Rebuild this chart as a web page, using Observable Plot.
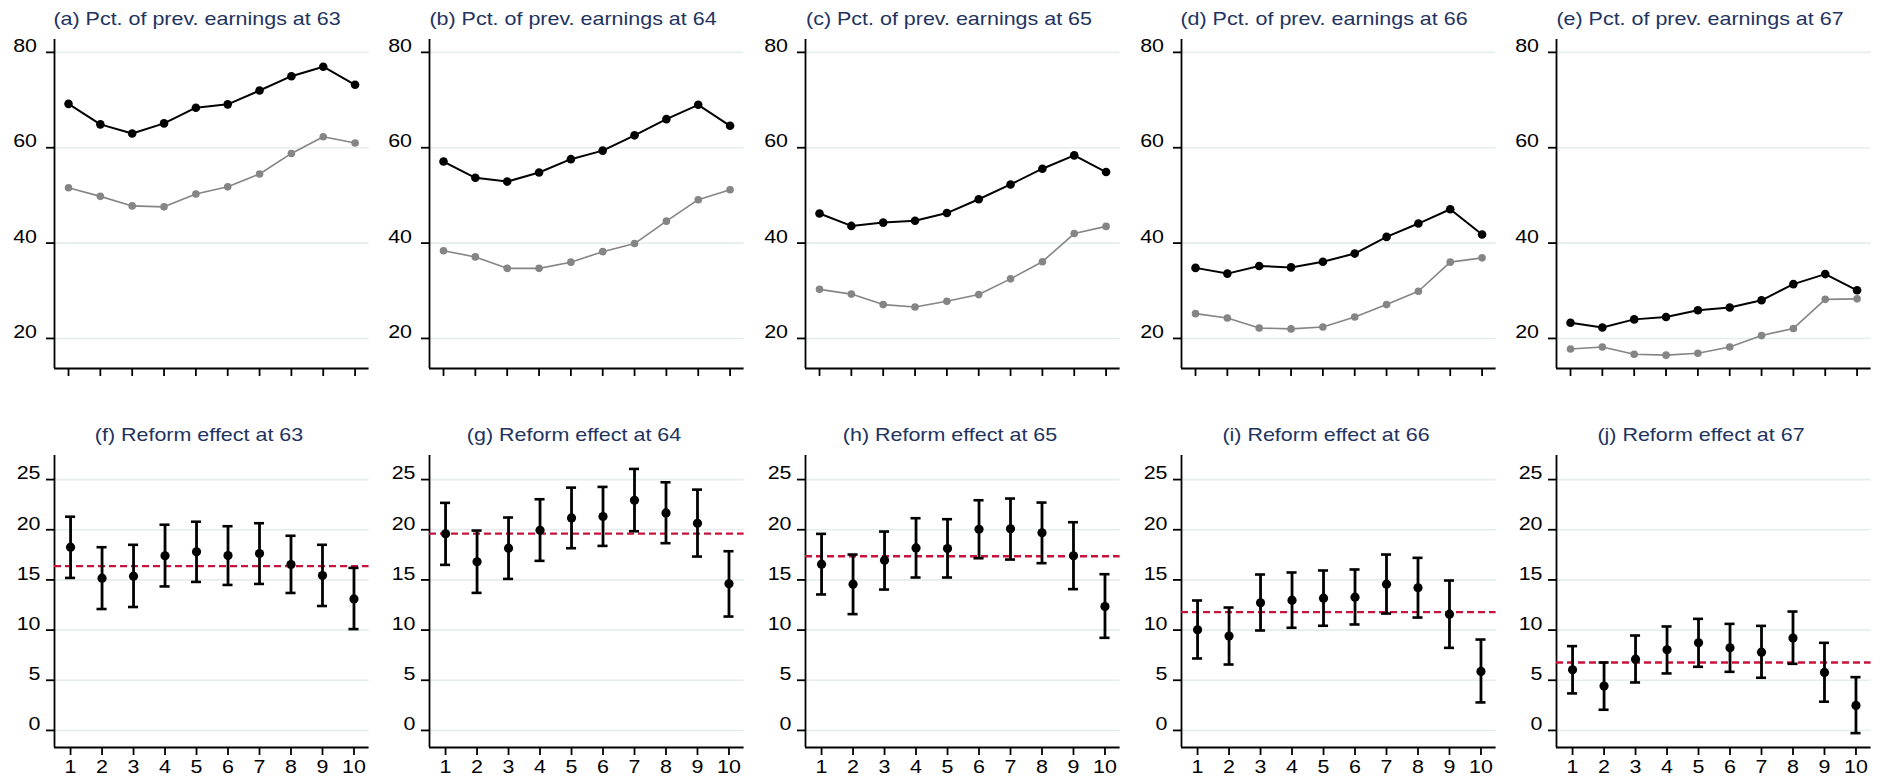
<!DOCTYPE html>
<html><head><meta charset="utf-8">
<script src="https://cdn.jsdelivr.net/npm/d3@7"></script>
<script src="https://cdn.jsdelivr.net/npm/@observablehq/plot@0.6"></script>
<style>
body{margin:0;background:#fff;}
#root{position:relative;width:1883px;height:781px;font-family:"Liberation Sans",Arial,sans-serif;overflow:hidden;}
.title{position:absolute;color:#22335f;font-size:19px;line-height:19px;white-space:nowrap;transform:translateX(-50%) scaleX(1.13);}
.panel{position:absolute;}
</style></head><body><div id="root"></div>
<script>
// ---- data ----
const deciles = [1,2,3,4,5,6,7,8,9,10];
const ages = [63,64,65,66,67];
const topLetters = ["a","b","c","d","e"];
const bottomLetters = ["f","g","h","i","j"];
const topTicks = [20,40,60,80];
const bottomTicks = [0,5,10,15,20,25];

// percent of previous earnings (black = series 1, gray = series 2)
const pct63Series1 = [69.2,64.9,63.0,65.1,68.4,69.1,72.0,75.0,77.0,73.2];
const pct63Series2 = [51.6,49.8,47.8,47.6,50.3,51.8,54.5,58.8,62.3,61.0];
const pct64Series1 = [57.1,53.7,52.9,54.8,57.6,59.4,62.6,66.0,69.0,64.6];
const pct64Series2 = [38.4,37.1,34.7,34.7,36.0,38.2,39.9,44.6,49.1,51.2];
const pct65Series1 = [46.2,43.6,44.3,44.7,46.3,49.2,52.3,55.6,58.4,54.9];
const pct65Series2 = [30.3,29.3,27.1,26.6,27.8,29.2,32.5,36.1,42.0,43.5];
const pct66Series1 = [34.8,33.6,35.2,34.9,36.1,37.8,41.3,44.1,47.1,41.8];
const pct66Series2 = [25.2,24.3,22.2,22.0,22.4,24.5,27.1,29.9,36.0,36.9];
const pct67Series1 = [23.3,22.3,24.0,24.5,25.9,26.5,28.0,31.4,33.5,30.1];
const pct67Series2 = [17.8,18.2,16.7,16.5,16.9,18.2,20.6,22.1,28.2,28.3];

// reform effects with confidence intervals
const effect63 = [18.26,15.17,15.37,17.40,17.80,17.43,17.63,16.53,15.44,13.11];
const effect63Lo = [15.2,12.1,12.3,14.35,14.8,14.5,14.6,13.7,12.4,10.1];
const effect63Hi = [21.3,18.26,18.5,20.5,20.8,20.35,20.65,19.4,18.5,16.2];
const effect64 = [19.59,16.80,18.16,19.95,21.18,21.31,22.94,21.68,20.65,14.61];
const effect64Lo = [16.5,13.71,15.1,16.9,18.16,18.39,19.85,18.66,17.33,11.35];
const effect64Hi = [22.68,19.92,21.22,23.04,24.2,24.27,26.06,24.73,24.0,17.86];
const effect65 = [16.57,14.58,16.97,18.19,18.13,20.05,20.09,19.69,17.40,12.35];
const effect65Lo = [13.55,11.59,14.04,15.24,15.24,17.16,17.03,16.67,14.08,9.23];
const effect65Hi = [19.59,17.53,19.82,21.15,21.05,22.94,23.11,22.71,20.75,15.57];
const effect66 = [10.03,9.40,12.72,12.98,13.18,13.28,14.58,14.21,11.59,5.88];
const effect66Lo = [7.17,6.57,9.96,10.23,10.43,10.56,11.65,11.25,8.23,2.79];
const effect66Hi = [12.95,12.25,15.54,15.74,15.94,16.04,17.53,17.2,14.94,9.06];
const effect67 = [6.04,4.42,7.10,8.03,8.73,8.23,7.80,9.20,5.78,2.49];
const effect67Lo = [3.69,2.06,4.78,5.68,6.34,5.84,5.25,6.64,2.86,-0.27];
const effect67Hi = [8.40,6.77,9.46,10.36,11.12,10.62,10.42,11.85,8.73,5.31];
const averageEffect = [16.37,19.62,17.36,11.79,6.77];

// ---- layout ----
const series1 = [pct63Series1,pct64Series1,pct65Series1,pct66Series1,pct67Series1];
const series2 = [pct63Series2,pct64Series2,pct65Series2,pct66Series2,pct67Series2];
const effects = [effect63,effect64,effect65,effect66,effect67];
const effectsLo = [effect63Lo,effect64Lo,effect65Lo,effect66Lo,effect67Lo];
const effectsHi = [effect63Hi,effect64Hi,effect65Hi,effect66Hi,effect67Hi];

const root = document.getElementById("root");
const axisXs = [54, 429.4, 805.2, 1180.8, 1556.4];
const plotW = 314.6;
const mL = 54, mR = 8;
const topDomainY = [13.7, 82.7];
const bottomDomainY = [-1.7, 27.4];
const topDomainX = [0.56, 10.44];
const bottomDomainX = [0.49, 10.48];
const gridColor = "#e5eded";
const axisW = 1.8;

function stretch(svg, k) {
  svg.querySelectorAll("text").forEach(t => {
    const w = t.getComputedTextLength();
    if (w > 0) {
      t.setAttribute("textLength", (w * k).toFixed(2));
      t.setAttribute("lengthAdjust", "spacingAndGlyphs");
    }
  });
}

function addTitle(text, cx, top) {
  const d = document.createElement("div");
  d.className = "title";
  d.textContent = text;
  d.style.left = cx + "px";
  d.style.top = top + "px";
  root.appendChild(d);
}

const style = {fontFamily: "'Liberation Sans', Arial, sans-serif", fontSize: "18px", color: "#000", background: "transparent", overflow: "visible"};

ages.forEach((age, i) => {
  const left = axisXs[i] - mL;
  const cx = axisXs[i] + plotW / 2 - 14;

  // ---- top panel ----
  const dataTop = [
    ...deciles.map((d, j) => ({decile: d, value: series2[i][j], s: "2"})),
    ...deciles.map((d, j) => ({decile: d, value: series1[i][j], s: "1"}))
  ];
  const top = Plot.plot({
    width: mL + plotW + mR, height: 390,
    marginLeft: mL, marginRight: mR, marginTop: 39, marginBottom: 22,
    style,
    x: {domain: topDomainX, label: null, axis: null},
    y: {domain: topDomainY, label: null, axis: null},
    marks: [
      Plot.gridY(topTicks, {stroke: gridColor, strokeOpacity: 1, strokeWidth: 1.6}),
      Plot.ruleX([topDomainX[0]], {stroke: "#000", strokeWidth: axisW}),
      Plot.ruleY([topDomainY[0]], {stroke: "#000", strokeWidth: axisW}),
      Plot.axisY(topTicks, {tickSize: 8, fill: "none", strokeWidth: axisW, label: null}),
      Plot.axisY(topTicks, {tickSize: 0, tickPadding: 17.5, dy: -6, fontSize: 18, fill: "#000", label: null}),
      Plot.axisX(deciles, {tickSize: 8, fill: "none", strokeWidth: axisW, label: null}),
      Plot.line(dataTop.filter(d => d.s === "2"), {x: "decile", y: "value", stroke: "#858585", strokeWidth: 1.6}),
      Plot.dot(dataTop.filter(d => d.s === "2"), {x: "decile", y: "value", r: 3.8, fill: "#858585"}),
      Plot.line(dataTop.filter(d => d.s === "1"), {x: "decile", y: "value", stroke: "#000", strokeWidth: 2}),
      Plot.dot(dataTop.filter(d => d.s === "1"), {x: "decile", y: "value", r: 4.3, fill: "#000"})
    ]
  });
  top.classList.add("panel");
  top.style.left = left + "px";
  top.style.top = "0px";
  root.appendChild(top);
  stretch(top, 1.19);
  addTitle(`(${topLetters[i]}) Pct. of prev. earnings at ${age}`, cx, 9);

  // ---- bottom panel ----
  const dataBot = deciles.map((d, j) => ({decile: d, est: effects[i][j], lo: effectsLo[i][j], hi: effectsHi[i][j]}));
  const capHalf = 0.16;
  const bot = Plot.plot({
    width: mL + plotW + mR, height: 391,
    marginLeft: mL, marginRight: mR, marginTop: 65, marginBottom: 34,
    style,
    x: {domain: bottomDomainX, label: null, axis: null},
    y: {domain: bottomDomainY, label: null, axis: null},
    marks: [
      Plot.gridY(bottomTicks, {stroke: gridColor, strokeOpacity: 1, strokeWidth: 1.6}),
      Plot.ruleX([bottomDomainX[0]], {stroke: "#000", strokeWidth: axisW}),
      Plot.ruleY([bottomDomainY[0]], {stroke: "#000", strokeWidth: axisW}),
      Plot.axisY(bottomTicks, {tickSize: 8, fill: "none", strokeWidth: axisW, label: null}),
      Plot.axisY(bottomTicks, {tickSize: 0, tickPadding: 14, dy: -6, fontSize: 18, fill: "#000", label: null}),
      Plot.axisX(deciles, {tickSize: 8, tickPadding: 5, fontSize: 18, fill: "#000", strokeWidth: axisW, label: null}),
      Plot.ruleY([averageEffect[i]], {stroke: "#c8143c", strokeWidth: 2.3, strokeDasharray: "7,4"}),
      Plot.ruleX(dataBot, {x: "decile", y1: "lo", y2: "hi", stroke: "#000", strokeWidth: 2.8}),
      Plot.ruleY(dataBot, {y: "hi", x1: d => d.decile - capHalf, x2: d => d.decile + capHalf, stroke: "#000", strokeWidth: 2.6}),
      Plot.ruleY(dataBot, {y: "lo", x1: d => d.decile - capHalf, x2: d => d.decile + capHalf, stroke: "#000", strokeWidth: 2.6}),
      Plot.dot(dataBot, {x: "decile", y: "est", r: 4.6, fill: "#000"})
    ]
  });
  bot.classList.add("panel");
  bot.style.left = left + "px";
  bot.style.top = "390px";
  root.appendChild(bot);
  stretch(bot, 1.19);
  addTitle(`(${bottomLetters[i]}) Reform effect at ${age}`, cx + 1.5, 424.5);
});
</script>
</body></html>
